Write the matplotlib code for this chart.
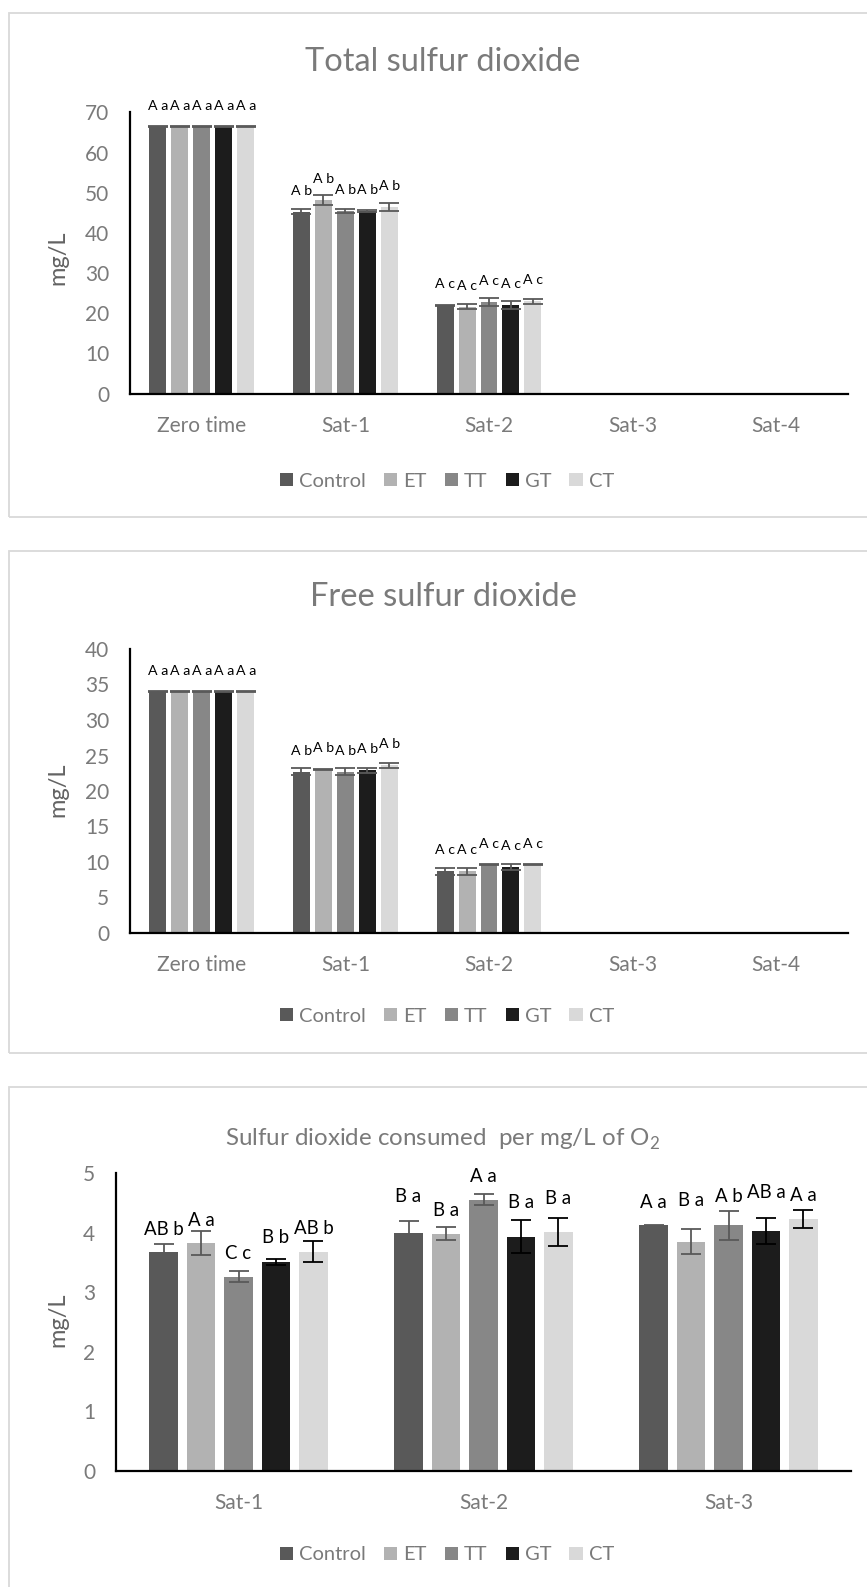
import matplotlib
matplotlib.use("Agg")
import matplotlib.pyplot as plt
from matplotlib.patches import Patch, Rectangle
import numpy as np

plt.rcParams['font.family'] = ['Lato', 'DejaVu Sans']
plt.rcParams['mathtext.fontset'] = 'custom'
plt.rcParams['mathtext.rm'] = 'Lato'

W, H, DPI = 867, 1587, 100

# ---- data ----
treatments = ["Control", "ET", "TT", "GT", "CT"]
bar_colors = ["#595959", "#B2B2B2", "#878787", "#1C1C1C", "#D9D9D9"]

stages_so2 = ["Zero time", "Sat-1", "Sat-2", "Sat-3", "Sat-4"]
stages_cons = ["Sat-1", "Sat-2", "Sat-3"]

# rows follow treatments order; nan = no measurement
total_means = [
    [66.5, 45.3, 22.0, np.nan, np.nan],
    [66.5, 48.2, 21.6, np.nan, np.nan],
    [66.5, 45.5, 22.7, np.nan, np.nan],
    [66.5, 45.4, 22.0, np.nan, np.nan],
    [66.5, 46.4, 23.0, np.nan, np.nan],
]
total_errs = [
    [0.15, 0.7, 0.1, 0, 0],
    [0.15, 1.15, 0.65, 0, 0],
    [0.15, 0.5, 1.0, 0, 0],
    [0.15, 0.2, 1.0, 0, 0],
    [0.15, 1.0, 0.6, 0, 0],
]
total_letters = [["A a", "A b", "A c", "", ""]] * 5

free_means = [
    [34.0, 22.7, 8.7, np.nan, np.nan],
    [34.0, 23.05, 8.7, np.nan, np.nan],
    [34.0, 22.7, 9.6, np.nan, np.nan],
    [34.0, 22.9, 9.25, np.nan, np.nan],
    [34.0, 23.6, 9.6, np.nan, np.nan],
]
free_errs = [
    [0.06, 0.5, 0.5, 0, 0],
    [0.06, 0.06, 0.5, 0, 0],
    [0.06, 0.5, 0.06, 0, 0],
    [0.06, 0.3, 0.4, 0, 0],
    [0.06, 0.3, 0.06, 0, 0],
]
free_letters = [["A a", "A b", "A c", "", ""]] * 5

cons_means = [
    [3.67, 4.00, 4.12],
    [3.82, 3.98, 3.85],
    [3.26, 4.55, 4.12],
    [3.51, 3.93, 4.03],
    [3.68, 4.01, 4.23],
]
cons_errs = [
    [0.14, 0.20, 0.01],
    [0.20, 0.11, 0.21],
    [0.09, 0.09, 0.25],
    [0.05, 0.28, 0.22],
    [0.18, 0.24, 0.15],
]
cons_letters = [
    ["AB b", "B a", "A a"],
    ["A a", "B a", "B a"],
    ["C c", "A a", "A b"],
    ["B b", "B a", "AB a"],
    ["AB b", "B a", "A a"],
]

# ---- layout (pixels) ----
TEXT_GRAY = "#7A7A7A"
LABEL_GRAY = "#636363"
ERR_GRAY = "#595959"
SLOT, BAR_W = 0.153, 0.118


def px_rect(left, top, right, bottom):
    return [left / W, 1 - bottom / H, (right - left) / W, (bottom - top) / H]


fig = plt.figure(figsize=(W / DPI, H / DPI), dpi=DPI)

# panel frames
for top, bottom in [(13, 517), (550.5, 1053), (1087, 1600)]:
    fig.patches.append(Rectangle((8.5 / W, 1 - bottom / H), (880 - 8.5) / W, (bottom - top) / H,
                                 transform=fig.transFigure, fill=False,
                                 edgecolor="#D9D9D9", linewidth=1.3))


def draw_panel(rect, title, title_y, title_size, cats, means, errs, letters,
               ymax, ystep, label_size, label_offsets, err_colors, ylabel_y, legend_y):
    ax = fig.add_axes(px_rect(*rect))
    n = len(cats)
    idx = np.arange(n)
    for j, name in enumerate(treatments):
        xs = idx + (j - 2) * SLOT
        vals = np.array(means[j], dtype=float)
        ax.bar(xs, np.nan_to_num(vals), BAR_W, color=bar_colors[j], zorder=2)
        ok = ~np.isnan(vals)
        ax.errorbar(xs[ok], vals[ok], yerr=np.array(errs[j])[ok], fmt='none',
                    ecolor=err_colors[j], elinewidth=1.3, capsize=7.5, capthick=1.3, zorder=3)
        for i in range(n):
            if ok[i] and letters[j][i]:
                ax.annotate(letters[j][i], (xs[i], vals[i]),
                            xytext=(0, label_offsets[j][i] * 0.72), textcoords='offset points',
                            ha='center', va='center', fontsize=label_size, color='black')
    ax.set_xlim(-0.5, n - 0.5)
    ax.set_ylim(0, ymax)
    ax.set_yticks(np.arange(0, ymax + ystep / 2, ystep))
    ax.set_xticks(idx)
    ax.set_xticklabels(cats)
    ax.tick_params(axis='both', length=0, labelsize=15, labelcolor=TEXT_GRAY)
    ax.tick_params(axis='y', pad=15)
    ax.tick_params(axis='x', pad=16)
    for s in ['top', 'right']:
        ax.spines[s].set_visible(False)
    for s in ['left', 'bottom']:
        ax.spines[s].set_linewidth(1.6)
        ax.spines[s].set_color('black')
    fig.text(443 / W, 1 - title_y / H, title, ha='center', va='center',
             fontsize=title_size, color=TEXT_GRAY)
    fig.text(58 / W, 1 - ylabel_y / H, "mg/L", rotation=90, ha='center', va='center',
             fontsize=17, color=LABEL_GRAY)
    handles = [Patch(facecolor=c, edgecolor='none') for c in bar_colors]
    fig.legend(handles, treatments, loc='center', bbox_to_anchor=(447 / W, 1 - legend_y / H),
               ncol=5, frameon=False, fontsize=14.5, labelcolor=TEXT_GRAY,
               handlelength=0.65, handleheight=0.65, handletextpad=0.3, columnspacing=0.9)
    return ax


off_so2 = [[21] * 5] * 5
dark_err = [ERR_GRAY] * 5

draw_panel((130, 112.5, 848, 393.5), "Total sulfur dioxide", 62, 23.5, stages_so2,
           total_means, total_errs, total_letters, 70, 10, 10.2, off_so2, dark_err, 258, 481)

draw_panel((130, 649, 848, 933), "Free sulfur dioxide", 597, 23.5, stages_so2,
           free_means, free_errs, free_letters, 40, 5, 10.2, off_so2, dark_err, 790, 1016)

cons_offsets = [
    [23, 36.6, 22.6],
    [22.6, 23, 41],
    [23.7, 23.3, 28.6],
    [24, 34, 38],
    [22.7, 34, 23],
]
cons_err_colors = [ERR_GRAY, ERR_GRAY, ERR_GRAY, "black", "black"]
draw_panel((116, 1173, 851, 1471), "Sulfur dioxide consumed  per mg/L of O$_\\mathregular{2}$",
           1139, 17.4, stages_cons, cons_means, cons_errs, cons_letters, 5, 1, 13.4,
           cons_offsets, cons_err_colors, 1320, 1555)

fig.savefig("out.png", dpi=DPI)
